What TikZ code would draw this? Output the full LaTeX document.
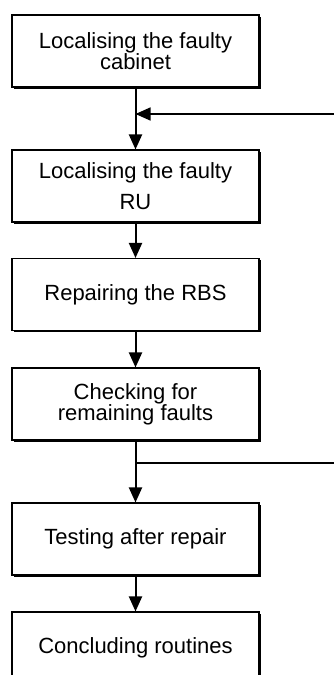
\documentclass[tikz,border=0pt]{standalone}
\usepackage{fontspec}
\setmainfont{Liberation Sans}
\usetikzlibrary{shadows,arrows.meta}

\begin{document}
\begin{tikzpicture}[x=1pt,y=1pt,
  stepbox/.style={draw,line width=1.1pt,fill=white,minimum width=247pt,minimum height=72pt,
    inner sep=0pt,align=center,font=\fontsize{22}{21}\selectfont,
    drop shadow={shadow xshift=1.6pt,shadow yshift=-1.6pt,fill=black,opacity=1}},
  flow/.style={line width=2pt,-{Triangle[length=15pt,width=13pt]}},
  loopline/.style={line width=1.5pt}]

\useasboundingbox (0,0) rectangle (334,-675);
\clip (0,0) rectangle (334,-675);

%% the steps, top to bottom
\def\steps{
{Localising the faulty\\cabinet}/51,
{Localising the faulty\\[10pt]RU}/186,
{Repairing the RBS}/294.5,
{Checking for\\remaining faults}/404,
{Testing after repair}/539,
{Concluding routines}/648
}

\foreach \txt/\ypos [count=\ni] in \steps
  \node[stepbox] (s\ni) at (135.5,-\ypos) {\txt};

\foreach \a/\b in {1/2,2/3,3/4,4/5,5/6}
  \draw[flow] (s\a.south) -- (s\b.north);

%% lines coming in from the right
\coordinate (back) at (334,-114);
\coordinate (out) at (334,-463);
\draw[loopline,-{Triangle[length=15pt,width=13pt]}] (back) -- (s1.south |- back);
\draw[loopline] (s4.south |- out) -- (out);

\end{tikzpicture}
\end{document}
